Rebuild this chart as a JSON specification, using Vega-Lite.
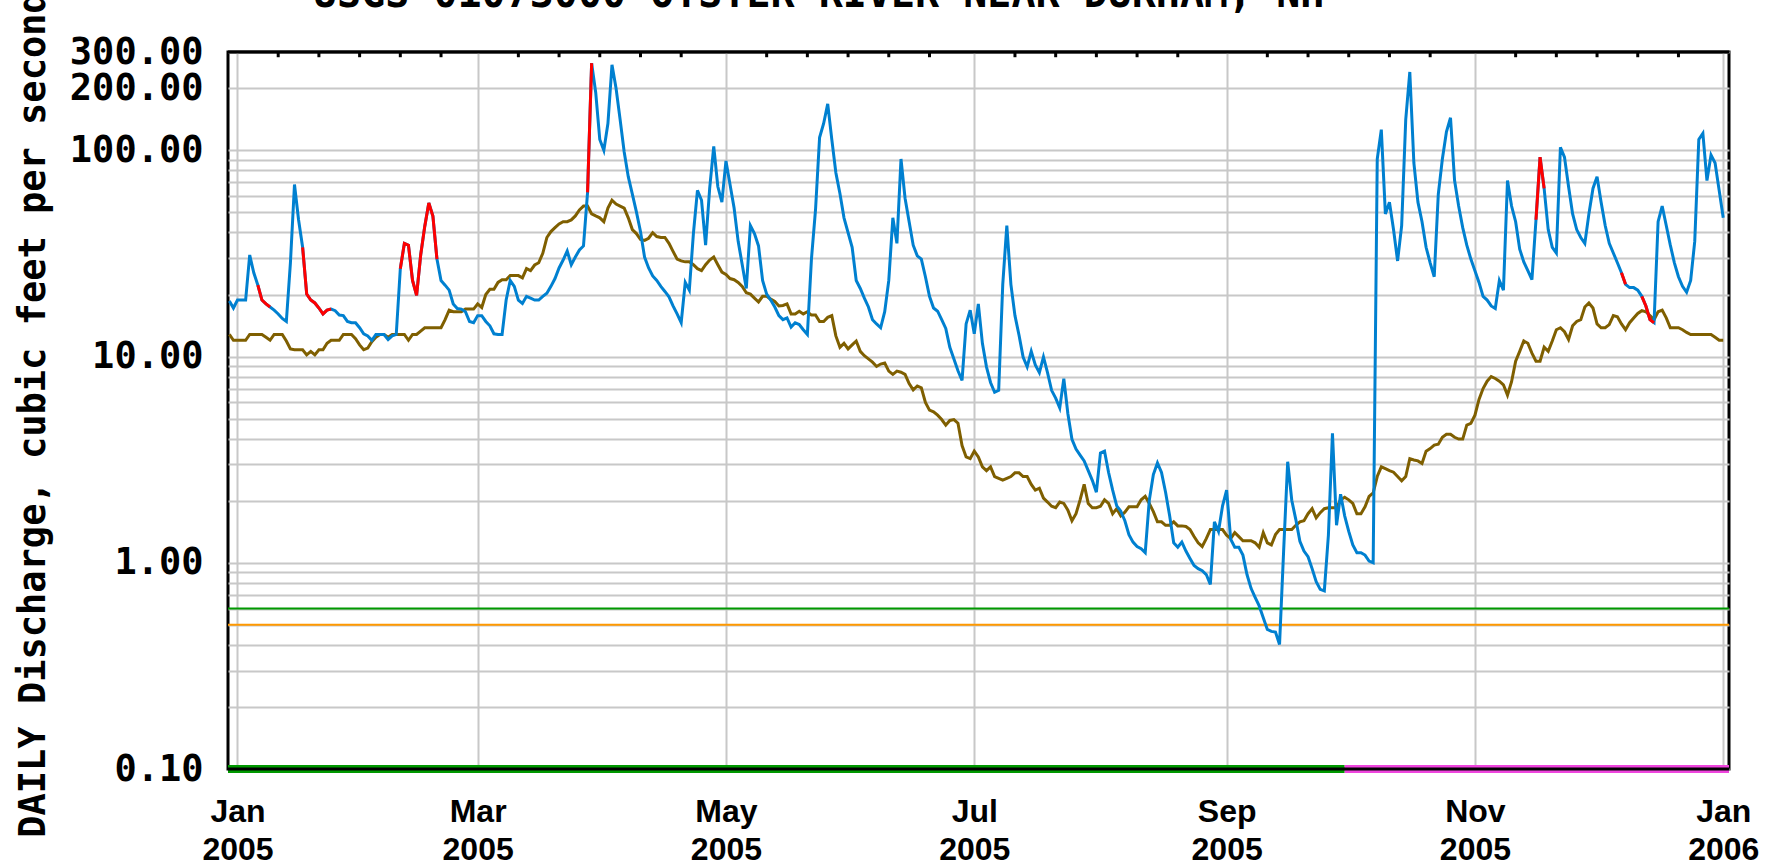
{
"$schema": "https://vega.github.io/schema/vega-lite/v6.json",
"width": 1501, "height": 717,
"autosize": {"type": "none"},
"padding": {"left": 228, "top": 52, "right": 38, "bottom": 98},
"background": "white",
"title": {"text": "USGS 01073000 OYSTER RIVER NEAR DURHAM, NH", "anchor": "start", "frame": "group", "font": "DejaVu Sans Mono", "fontSize": 40, "fontWeight": "bold", "color": "black", "dx": 85, "dy": 24, "offset": 0},
"config": {"view": {"stroke": "black", "strokeWidth": 3}},
"resolve": {"scale": {"color": "independent"}},
"data": {"format": {"parse": {"t": "date:'%Y-%m-%d'"}}, "values": [
{"t":"2004-12-30","q":18.6,"m":12.8},{"t":"2004-12-31","q":17.2,"m":12.0},
{"t":"2005-01-01","q":18.8,"m":12.0},{"t":"2005-01-02","q":18.8,"m":12.0},{"t":"2005-01-03","q":18.8,"m":12.0},{"t":"2005-01-04","q":31.1,"m":12.8},{"t":"2005-01-05","q":25.5,"m":12.8},{"t":"2005-01-06","q":22.2,"m":12.8,"e":1},{"t":"2005-01-07","q":18.8,"m":12.8,"e":1},{"t":"2005-01-08","q":18.0,"m":12.4,"e":1},{"t":"2005-01-09","q":17.4,"m":12.0,"e":1},{"t":"2005-01-10","q":16.8,"m":12.8},
{"t":"2005-01-11","q":16.1,"m":12.8},{"t":"2005-01-12","q":15.3,"m":12.8},{"t":"2005-01-13","q":14.8,"m":11.9},{"t":"2005-01-14","q":28.5,"m":10.9},{"t":"2005-01-15","q":68.3,"m":10.8},{"t":"2005-01-16","q":46.1,"m":10.8},{"t":"2005-01-17","q":33.9,"m":10.8,"e":2},{"t":"2005-01-18","q":20.1,"m":10.2,"e":2},{"t":"2005-01-19","q":18.8,"m":10.6,"e":2},{"t":"2005-01-20","q":18.2,"m":10.2,"e":2},
{"t":"2005-01-21","q":17.2,"m":10.8,"e":2},{"t":"2005-01-22","q":16.1,"m":10.8,"e":2},{"t":"2005-01-23","q":16.8,"m":11.6,"e":2},{"t":"2005-01-24","q":17.0,"m":12.0,"e":2},{"t":"2005-01-25","q":16.7,"m":12.0},{"t":"2005-01-26","q":15.9,"m":12.0},{"t":"2005-01-27","q":15.8,"m":12.8},{"t":"2005-01-28","q":14.8,"m":12.8},{"t":"2005-01-29","q":14.6,"m":12.8},{"t":"2005-01-30","q":14.6,"m":12.2},{"t":"2005-01-31","q":13.8,"m":11.4},
{"t":"2005-02-01","q":12.9,"m":10.8},{"t":"2005-02-02","q":12.6,"m":11.0},{"t":"2005-02-03","q":12.0,"m":11.8},{"t":"2005-02-04","q":12.8,"m":12.4},{"t":"2005-02-05","q":12.8,"m":12.8},{"t":"2005-02-06","q":12.8,"m":12.8},{"t":"2005-02-07","q":12.1,"m":12.4},{"t":"2005-02-08","q":12.6,"m":12.8},{"t":"2005-02-09","q":12.8,"m":12.8},{"t":"2005-02-10","q":26.7,"m":12.8,"e":3},
{"t":"2005-02-11","q":35.4,"m":12.8,"e":3},{"t":"2005-02-12","q":34.7,"m":12.0,"e":3},{"t":"2005-02-13","q":23.4,"m":12.8,"e":3},{"t":"2005-02-14","q":19.8,"m":12.8,"e":3},{"t":"2005-02-15","q":31.1,"m":13.3,"e":3},{"t":"2005-02-16","q":42.8,"m":13.8,"e":3},{"t":"2005-02-17","q":55.6,"m":13.8,"e":3},{"t":"2005-02-18","q":48.1,"m":13.8,"e":3},{"t":"2005-02-19","q":29.7,"m":13.8,"e":3},{"t":"2005-02-20","q":23.4,"m":13.8},
{"t":"2005-02-21","q":22.2,"m":15.1},{"t":"2005-02-22","q":21.0,"m":16.8},{"t":"2005-02-23","q":18.0,"m":16.5},{"t":"2005-02-24","q":17.1,"m":16.5},{"t":"2005-02-25","q":17.0,"m":16.5},{"t":"2005-02-26","q":16.5,"m":17.0},{"t":"2005-02-27","q":14.8,"m":17.0},{"t":"2005-02-28","q":14.6,"m":17.0},
{"t":"2005-03-01","q":15.8,"m":18.0},{"t":"2005-03-02","q":15.8,"m":17.3},{"t":"2005-03-03","q":14.8,"m":20.0},{"t":"2005-03-04","q":14.1,"m":21.2},{"t":"2005-03-05","q":12.9,"m":21.2},{"t":"2005-03-06","q":12.8,"m":22.9},{"t":"2005-03-07","q":12.8,"m":23.6},{"t":"2005-03-08","q":18.8,"m":23.6},{"t":"2005-03-09","q":23.4,"m":24.7},{"t":"2005-03-10","q":21.9,"m":24.7},
{"t":"2005-03-11","q":18.8,"m":24.7},{"t":"2005-03-12","q":18.1,"m":24.1},{"t":"2005-03-13","q":19.6,"m":26.7},{"t":"2005-03-14","q":19.2,"m":26.1},{"t":"2005-03-15","q":18.8,"m":27.8},{"t":"2005-03-16","q":18.8,"m":28.5},{"t":"2005-03-17","q":19.6,"m":31.7},{"t":"2005-03-18","q":20.3,"m":37.8},{"t":"2005-03-19","q":21.9,"m":40.4},{"t":"2005-03-20","q":23.9,"m":42.2},
{"t":"2005-03-21","q":26.9,"m":44.0},{"t":"2005-03-22","q":29.4,"m":45.1},{"t":"2005-03-23","q":32.5,"m":45.1},{"t":"2005-03-24","q":27.9,"m":46.0},{"t":"2005-03-25","q":30.4,"m":48.1},{"t":"2005-03-26","q":32.9,"m":51.4},{"t":"2005-03-27","q":34.4,"m":53.7},{"t":"2005-03-28","q":62.6,"m":53.7,"e":4},{"t":"2005-03-29","q":265,"m":49.2,"e":4},{"t":"2005-03-30","q":191,"m":48.1},{"t":"2005-03-31","q":113,"m":47.1},
{"t":"2005-04-01","q":100,"m":45.1},{"t":"2005-04-02","q":135,"m":52.5},{"t":"2005-04-03","q":260,"m":57.3},{"t":"2005-04-04","q":200,"m":54.9},{"t":"2005-04-05","q":141,"m":53.7},{"t":"2005-04-06","q":98.3,"m":52.5},{"t":"2005-04-07","q":74.6,"m":47.1},{"t":"2005-04-08","q":61.3,"m":41.3},{"t":"2005-04-09","q":50.3,"m":39.5},{"t":"2005-04-10","q":40.4,"m":37.0},
{"t":"2005-04-11","q":30.4,"m":36.6},{"t":"2005-04-12","q":26.9,"m":37.5},{"t":"2005-04-13","q":24.6,"m":39.9},{"t":"2005-04-14","q":23.4,"m":38.2},{"t":"2005-04-15","q":21.9,"m":37.8},{"t":"2005-04-16","q":20.7,"m":37.8},{"t":"2005-04-17","q":19.5,"m":35.4},{"t":"2005-04-18","q":17.6,"m":32.4},{"t":"2005-04-19","q":16.1,"m":29.7},{"t":"2005-04-20","q":14.6,"m":29.1},
{"t":"2005-04-21","q":22.9,"m":28.8},{"t":"2005-04-22","q":21.0,"m":28.8},{"t":"2005-04-23","q":39.5,"m":27.9},{"t":"2005-04-24","q":64.0,"m":26.7},{"t":"2005-04-25","q":57.3,"m":26.1},{"t":"2005-04-26","q":34.7,"m":27.9},{"t":"2005-04-27","q":65.4,"m":29.4},{"t":"2005-04-28","q":104.5,"m":30.4},{"t":"2005-04-29","q":66.8,"m":27.9},{"t":"2005-04-30","q":56.1,"m":25.7},
{"t":"2005-05-01","q":88.9,"m":25.0},{"t":"2005-05-02","q":68.3,"m":23.9},{"t":"2005-05-03","q":52.5,"m":23.6},{"t":"2005-05-04","q":36.2,"m":22.9},{"t":"2005-05-05","q":27.9,"m":21.9},{"t":"2005-05-06","q":21.4,"m":20.4},{"t":"2005-05-07","q":43.2,"m":20.1},{"t":"2005-05-08","q":39.5,"m":19.2},{"t":"2005-05-09","q":34.4,"m":18.4},{"t":"2005-05-10","q":23.4,"m":19.6},
{"t":"2005-05-11","q":20.1,"m":19.6},{"t":"2005-05-12","q":18.8,"m":19.0},{"t":"2005-05-13","q":17.4,"m":18.5},{"t":"2005-05-14","q":15.8,"m":17.6},{"t":"2005-05-15","q":15.1,"m":17.7},{"t":"2005-05-16","q":15.4,"m":18.0},{"t":"2005-05-17","q":13.9,"m":16.1},{"t":"2005-05-18","q":14.6,"m":16.1},{"t":"2005-05-19","q":14.3,"m":16.6},{"t":"2005-05-20","q":13.5,"m":16.1},
{"t":"2005-05-21","q":12.8,"m":16.5},{"t":"2005-05-22","q":29.7,"m":15.9},{"t":"2005-05-23","q":51.4,"m":15.9},{"t":"2005-05-24","q":115.5,"m":14.8},{"t":"2005-05-25","q":135,"m":14.8},{"t":"2005-05-26","q":168,"m":15.5},{"t":"2005-05-27","q":113,"m":15.8},{"t":"2005-05-28","q":77.9,"m":12.6},{"t":"2005-05-29","q":61.8,"m":11.1},{"t":"2005-05-30","q":47.1,"m":11.6},{"t":"2005-05-31","q":39.9,"m":10.9},
{"t":"2005-06-01","q":33.9,"m":11.4},{"t":"2005-06-02","q":23.4,"m":11.9},{"t":"2005-06-03","q":21.4,"m":10.6},{"t":"2005-06-04","q":19.2,"m":10.1},{"t":"2005-06-05","q":17.4,"m":9.75},{"t":"2005-06-06","q":15.1,"m":9.4},{"t":"2005-06-07","q":14.4,"m":8.96},{"t":"2005-06-08","q":13.8,"m":9.2},{"t":"2005-06-09","q":16.5,"m":9.3},{"t":"2005-06-10","q":23.4,"m":8.5},
{"t":"2005-06-11","q":47.1,"m":8.2},{"t":"2005-06-12","q":35.4,"m":8.5},{"t":"2005-06-13","q":90.8,"m":8.4},{"t":"2005-06-14","q":58.6,"m":8.2},{"t":"2005-06-15","q":45.1,"m":7.4},{"t":"2005-06-16","q":34.7,"m":6.9},{"t":"2005-06-17","q":30.8,"m":7.2},{"t":"2005-06-18","q":29.7,"m":7.05},{"t":"2005-06-19","q":24.4,"m":6.0},{"t":"2005-06-20","q":19.6,"m":5.5},
{"t":"2005-06-21","q":17.2,"m":5.4},{"t":"2005-06-22","q":16.6,"m":5.2},{"t":"2005-06-23","q":15.1,"m":4.95},{"t":"2005-06-24","q":13.7,"m":4.65},{"t":"2005-06-25","q":11.1,"m":4.9},{"t":"2005-06-26","q":9.74,"m":4.95},{"t":"2005-06-27","q":8.54,"m":4.75},{"t":"2005-06-28","q":7.66,"m":3.7},{"t":"2005-06-29","q":14.4,"m":3.26},{"t":"2005-06-30","q":16.8,"m":3.2},
{"t":"2005-07-01","q":12.9,"m":3.48},{"t":"2005-07-02","q":18.0,"m":3.26},{"t":"2005-07-03","q":11.6,"m":2.92},{"t":"2005-07-04","q":8.92,"m":2.8},{"t":"2005-07-05","q":7.49,"m":2.92},{"t":"2005-07-06","q":6.71,"m":2.62},{"t":"2005-07-07","q":6.86,"m":2.57},{"t":"2005-07-08","q":22.4,"m":2.52},{"t":"2005-07-09","q":43.2,"m":2.57},{"t":"2005-07-10","q":22.4,"m":2.62},
{"t":"2005-07-11","q":15.8,"m":2.73},{"t":"2005-07-12","q":12.7,"m":2.73},{"t":"2005-07-13","q":9.96,"m":2.62},{"t":"2005-07-14","q":8.92,"m":2.62},{"t":"2005-07-15","q":10.6,"m":2.4},{"t":"2005-07-16","q":9.12,"m":2.25},{"t":"2005-07-17","q":8.36,"m":2.3},{"t":"2005-07-18","q":9.96,"m":2.06},{"t":"2005-07-19","q":8.36,"m":1.97},{"t":"2005-07-20","q":6.86,"m":1.88},
{"t":"2005-07-21","q":6.29,"m":1.85},{"t":"2005-07-22","q":5.64,"m":1.97},{"t":"2005-07-23","q":7.82,"m":1.94},{"t":"2005-07-24","q":5.28,"m":1.8},{"t":"2005-07-25","q":3.97,"m":1.6},{"t":"2005-07-26","q":3.56,"m":1.73},{"t":"2005-07-27","q":3.33,"m":2.02},{"t":"2005-07-28","q":3.12,"m":2.4},{"t":"2005-07-29","q":2.80,"m":1.94},{"t":"2005-07-30","q":2.51,"m":1.85},{"t":"2005-07-31","q":2.20,"m":1.85},
{"t":"2005-08-01","q":3.41,"m":1.88},{"t":"2005-08-02","q":3.48,"m":2.02},{"t":"2005-08-03","q":2.74,"m":1.94},{"t":"2005-08-04","q":2.25,"m":1.73},{"t":"2005-08-05","q":1.89,"m":1.83},{"t":"2005-08-06","q":1.78,"m":1.69},{"t":"2005-08-07","q":1.60,"m":1.76},{"t":"2005-08-08","q":1.37,"m":1.87},{"t":"2005-08-09","q":1.26,"m":1.87},{"t":"2005-08-10","q":1.20,"m":1.87},
{"t":"2005-08-11","q":1.17,"m":2.02},{"t":"2005-08-12","q":1.12,"m":2.10},{"t":"2005-08-13","q":2.01,"m":1.94},{"t":"2005-08-14","q":2.68,"m":1.77},{"t":"2005-08-15","q":3.05,"m":1.58},{"t":"2005-08-16","q":2.74,"m":1.58},{"t":"2005-08-17","q":2.20,"m":1.52},{"t":"2005-08-18","q":1.69,"m":1.52},{"t":"2005-08-19","q":1.25,"m":1.58},{"t":"2005-08-20","q":1.19,"m":1.51},
{"t":"2005-08-21","q":1.26,"m":1.51},{"t":"2005-08-22","q":1.14,"m":1.50},{"t":"2005-08-23","q":1.05,"m":1.45},{"t":"2005-08-24","q":0.970,"m":1.34},{"t":"2005-08-25","q":0.937,"m":1.25},{"t":"2005-08-26","q":0.916,"m":1.20},{"t":"2005-08-27","q":0.877,"m":1.31},{"t":"2005-08-28","q":0.786,"m":1.45},{"t":"2005-08-29","q":1.58,"m":1.45},{"t":"2005-08-30","q":1.42,"m":1.45},{"t":"2005-08-31","q":1.89,"m":1.45},
{"t":"2005-09-01","q":2.25,"m":1.36},{"t":"2005-09-02","q":1.30,"m":1.31},{"t":"2005-09-03","q":1.19,"m":1.40},{"t":"2005-09-04","q":1.19,"m":1.34},{"t":"2005-09-05","q":1.09,"m":1.28},{"t":"2005-09-06","q":0.877,"m":1.28},{"t":"2005-09-07","q":0.752,"m":1.28},{"t":"2005-09-08","q":0.680,"m":1.25},{"t":"2005-09-09","q":0.618,"m":1.19},{"t":"2005-09-10","q":0.542,"m":1.40},
{"t":"2005-09-11","q":0.475,"m":1.25},{"t":"2005-09-12","q":0.465,"m":1.22},{"t":"2005-09-13","q":0.461,"m":1.37},{"t":"2005-09-14","q":0.402,"m":1.45},{"t":"2005-09-15","q":1.14,"m":1.45},{"t":"2005-09-16","q":3.09,"m":1.45},{"t":"2005-09-17","q":2.01,"m":1.45},{"t":"2005-09-18","q":1.62,"m":1.52},{"t":"2005-09-19","q":1.27,"m":1.58},{"t":"2005-09-20","q":1.14,"m":1.60},
{"t":"2005-09-21","q":1.07,"m":1.73},{"t":"2005-09-22","q":0.937,"m":1.83},{"t":"2005-09-23","q":0.810,"m":1.65},{"t":"2005-09-24","q":0.743,"m":1.75},{"t":"2005-09-25","q":0.730,"m":1.83},{"t":"2005-09-26","q":1.36,"m":1.85},{"t":"2005-09-27","q":4.24,"m":1.85},{"t":"2005-09-28","q":1.52,"m":1.85},{"t":"2005-09-29","q":2.15,"m":2.02},{"t":"2005-09-30","q":1.69,"m":2.08},
{"t":"2005-10-01","q":1.42,"m":2.02},{"t":"2005-10-02","q":1.22,"m":1.94},{"t":"2005-10-03","q":1.12,"m":1.73},{"t":"2005-10-04","q":1.12,"m":1.73},{"t":"2005-10-05","q":1.09,"m":1.87},{"t":"2005-10-06","q":1.02,"m":2.10},{"t":"2005-10-07","q":1.00,"m":2.18},{"t":"2005-10-08","q":90.8,"m":2.62},{"t":"2005-10-09","q":126,"m":2.92},{"t":"2005-10-10","q":49.2,"m":2.86},
{"t":"2005-10-11","q":56.1,"m":2.80},{"t":"2005-10-12","q":41.3,"m":2.75},{"t":"2005-10-13","q":29.1,"m":2.62},{"t":"2005-10-14","q":43.2,"m":2.5},{"t":"2005-10-15","q":141,"m":2.62},{"t":"2005-10-16","q":240,"m":3.2},{"t":"2005-10-17","q":86.9,"m":3.15},{"t":"2005-10-18","q":56.1,"m":3.12},{"t":"2005-10-19","q":45.1,"m":3.03},{"t":"2005-10-20","q":33.9,"m":3.48},
{"t":"2005-10-21","q":28.5,"m":3.58},{"t":"2005-10-22","q":24.4,"m":3.72},{"t":"2005-10-23","q":61.3,"m":3.76},{"t":"2005-10-24","q":90.8,"m":4.06},{"t":"2005-10-25","q":123,"m":4.2},{"t":"2005-10-26","q":144,"m":4.2},{"t":"2005-10-27","q":71.4,"m":4.06},{"t":"2005-10-28","q":53.7,"m":3.98},{"t":"2005-10-29","q":42.2,"m":3.98},{"t":"2005-10-30","q":34.7,"m":4.65},{"t":"2005-10-31","q":29.7,"m":4.74},
{"t":"2005-11-01","q":26.1,"m":5.2},{"t":"2005-11-02","q":22.9,"m":6.2},{"t":"2005-11-03","q":19.6,"m":7.0},{"t":"2005-11-04","q":18.8,"m":7.6},{"t":"2005-11-05","q":17.6,"m":8.0},{"t":"2005-11-06","q":17.1,"m":7.83},{"t":"2005-11-07","q":23.4,"m":7.6},{"t":"2005-11-08","q":21.0,"m":7.3},{"t":"2005-11-09","q":71.4,"m":6.5},{"t":"2005-11-10","q":53.7,"m":7.55},
{"t":"2005-11-11","q":45.1,"m":9.5},{"t":"2005-11-12","q":33.2,"m":10.6},{"t":"2005-11-13","q":28.8,"m":11.9},{"t":"2005-11-14","q":26.1,"m":11.6},{"t":"2005-11-15","q":23.6,"m":10.4},{"t":"2005-11-16","q":46.1,"m":9.5,"e":5},{"t":"2005-11-17","q":92.8,"m":9.5,"e":5},{"t":"2005-11-18","q":65.4,"m":11.1,"e":5},{"t":"2005-11-19","q":41.3,"m":10.6},{"t":"2005-11-20","q":33.9,"m":11.9},
{"t":"2005-11-21","q":31.8,"m":13.5},{"t":"2005-11-22","q":103.6,"m":13.8},{"t":"2005-11-23","q":92.8,"m":13.2},{"t":"2005-11-24","q":66.8,"m":12.1},{"t":"2005-11-25","q":49.2,"m":14.1},{"t":"2005-11-26","q":41.3,"m":14.8},{"t":"2005-11-27","q":37.8,"m":15.1},{"t":"2005-11-28","q":35.4,"m":17.4},{"t":"2005-11-29","q":49.2,"m":18.2},{"t":"2005-11-30","q":65.4,"m":17.2},
{"t":"2005-12-01","q":74.6,"m":14.4},{"t":"2005-12-02","q":56.1,"m":13.8},{"t":"2005-12-03","q":43.2,"m":13.8},{"t":"2005-12-04","q":35.4,"m":14.3},{"t":"2005-12-05","q":31.8,"m":15.8},{"t":"2005-12-06","q":28.5,"m":15.6},{"t":"2005-12-07","q":25.5,"m":14.4,"e":6},{"t":"2005-12-08","q":22.4,"m":13.5,"e":6},{"t":"2005-12-09","q":21.6,"m":14.6},{"t":"2005-12-10","q":21.6,"m":15.4},
{"t":"2005-12-11","q":21.0,"m":16.2},{"t":"2005-12-12","q":19.6,"m":16.7,"e":7},{"t":"2005-12-13","q":17.6,"m":16.5,"e":7},{"t":"2005-12-14","q":15.1,"m":15.8,"e":7},{"t":"2005-12-15","q":14.6,"m":15.1,"e":7},{"t":"2005-12-16","q":45.1,"m":16.5},{"t":"2005-12-17","q":53.7,"m":16.8},{"t":"2005-12-18","q":43.2,"m":15.4},{"t":"2005-12-19","q":34.7,"m":13.8},{"t":"2005-12-20","q":28.5,"m":13.8},
{"t":"2005-12-21","q":24.4,"m":13.8},{"t":"2005-12-22","q":21.9,"m":13.5},{"t":"2005-12-23","q":20.5,"m":13.1},{"t":"2005-12-24","q":23.4,"m":12.8},{"t":"2005-12-25","q":36.2,"m":12.8},{"t":"2005-12-26","q":113,"m":12.8},{"t":"2005-12-27","q":121,"m":12.8},{"t":"2005-12-28","q":71.4,"m":12.8},{"t":"2005-12-29","q":94.9,"m":12.8},{"t":"2005-12-30","q":86.9,"m":12.4},{"t":"2005-12-31","q":64.0,"m":12.0},
{"t":"2006-01-01","q":47.1,"m":12.0}
]},
"layer": [
{"mark": {"type": "line", "color": "#7f5f00", "strokeWidth": 3},
 "encoding": {
  "x": {"field": "t", "type": "temporal", "title": null, "scale": {"type": "time", "domain": [{"year": 2004, "month": 12, "date": 29, "hours": 16}, {"year": 2006, "month": 1, "date": 2, "hours": 10}], "nice": false},
   "axis": {"values": [{"year":2005,"month":1,"date":1},{"year":2005,"month":3,"date":1},{"year":2005,"month":5,"date":1},{"year":2005,"month":7,"date":1},{"year":2005,"month":9,"date":1},{"year":2005,"month":11,"date":1},{"year":2006,"month":1,"date":1}],
    "labelExpr": "[timeFormat(datum.value, '%b'), timeFormat(datum.value, '%Y')]", "grid": true, "gridColor": "#c8c8c8", "gridWidth": 2, "domain": false, "ticks": false, "labelPadding": 27, "labelFont": "Liberation Sans", "labelFontSize": 32, "labelFontWeight": "bold", "labelColor": "black", "labelLineHeight": 38, "labelOverlap": false, "labelFlush": false, "labelBound": false, "labelBaseline": "top", "labelDx": 3}},
  "y": {"field": "m", "type": "quantitative", "title": "DAILY Discharge, cubic feet per second", "scale": {"type": "log", "domain": [0.1, 300], "nice": false},
   "axis": {"values": [0.1,0.2,0.3,0.4,0.5,0.6,0.7,0.8,0.9,1,2,3,4,5,6,7,8,9,10,20,30,40,50,60,70,80,90,100,200,300],
    "labelExpr": "(datum.value == 0.1 || datum.value == 1 || datum.value == 10 || datum.value == 100 || datum.value == 200 || datum.value == 300) ? format(datum.value, '.2f') : ''",
    "grid": true, "gridColor": "#c8c8c8", "gridWidth": 2, "domain": false, "ticks": false, "labelPadding": 25,
    "labelFont": "DejaVu Sans Mono", "labelFontSize": 37, "labelFontWeight": "bold", "labelColor": "black", "labelOverlap": false,
    "titleFont": "DejaVu Sans Mono", "titleFontSize": 37, "titleFontWeight": "bold", "titleColor": "black", "titleX": -184, "titleY": 362, "titleAlign": "center", "titleBaseline": "alphabetic"}}
 }},
{"data": {"values": [{"level": 0.6, "kind": "upper"}, {"level": 0.5, "kind": "lower"}]},
 "mark": {"type": "rule", "strokeWidth": 2},
 "encoding": {
  "y": {"field": "level", "type": "quantitative"},
  "color": {"field": "kind", "type": "nominal", "scale": {"domain": ["upper", "lower"], "range": ["#009900", "#ff9900"]}, "legend": null}
 }},
{"mark": {"type": "line", "color": "#0080d0", "strokeWidth": 3},
 "encoding": {
  "x": {"field": "t", "type": "temporal"},
  "y": {"field": "q", "type": "quantitative"}
 }},
{"transform": [{"filter": "datum.e > 0"}],
 "mark": {"type": "line", "color": "#ff0000", "strokeWidth": 3},
 "encoding": {
  "x": {"field": "t", "type": "temporal"},
  "y": {"field": "q", "type": "quantitative"},
  "detail": {"field": "e", "type": "nominal"}
 }},
{"data": {"format": {"parse": {"s": "date:'%Y-%m-%dT%H:%M'", "f": "date:'%Y-%m-%dT%H:%M'"}}, "values": [{"s": "2004-12-29T16:00", "f": "2005-09-30T00:00", "status": "Approved"}, {"s": "2005-09-30T00:00", "f": "2006-01-02T10:00", "status": "Provisional"}]},
 "mark": {"type": "rule", "strokeWidth": 8},
 "encoding": {
  "x": {"field": "s", "type": "temporal"},
  "x2": {"field": "f"},
  "y": {"datum": 0.1, "type": "quantitative"},
  "color": {"field": "status", "type": "nominal", "scale": {"domain": ["Approved", "Provisional"], "range": ["#009900", "#ee44dd"]}, "legend": null}
 }},
{"data": {"values": [{"edge": "bottom", "v": 0.1}, {"edge": "top", "v": 300}]},
 "mark": {"type": "rule", "strokeWidth": 3, "color": "black"},
 "encoding": {
  "y": {"field": "v", "type": "quantitative"}
 }},
{"data": {"format": {"parse": {"d": "date:'%Y-%m-%d'"}}, "values": [{"d":"2005-01-11"},{"d":"2005-01-21"},{"d":"2005-01-31"},{"d":"2005-02-10"},{"d":"2005-02-20"},{"d":"2005-03-11"},{"d":"2005-03-21"},{"d":"2005-03-31"},{"d":"2005-04-10"},{"d":"2005-04-20"},{"d":"2005-05-11"},{"d":"2005-05-21"},{"d":"2005-05-31"},{"d":"2005-06-10"},{"d":"2005-06-20"},{"d":"2005-07-11"},{"d":"2005-07-21"},{"d":"2005-07-31"},{"d":"2005-08-10"},{"d":"2005-08-20"},{"d":"2005-09-11"},{"d":"2005-09-21"},{"d":"2005-10-01"},{"d":"2005-10-11"},{"d":"2005-10-21"},{"d":"2005-11-11"},{"d":"2005-11-21"},{"d":"2005-12-01"},{"d":"2005-12-11"},{"d":"2005-12-21"}]},
 "mark": {"type": "rule", "strokeWidth": 3, "color": "black"},
 "encoding": {
  "x": {"field": "d", "type": "temporal"},
  "y": {"datum": 300, "type": "quantitative"},
  "y2": {"datum": 283}
 }}
]
}
